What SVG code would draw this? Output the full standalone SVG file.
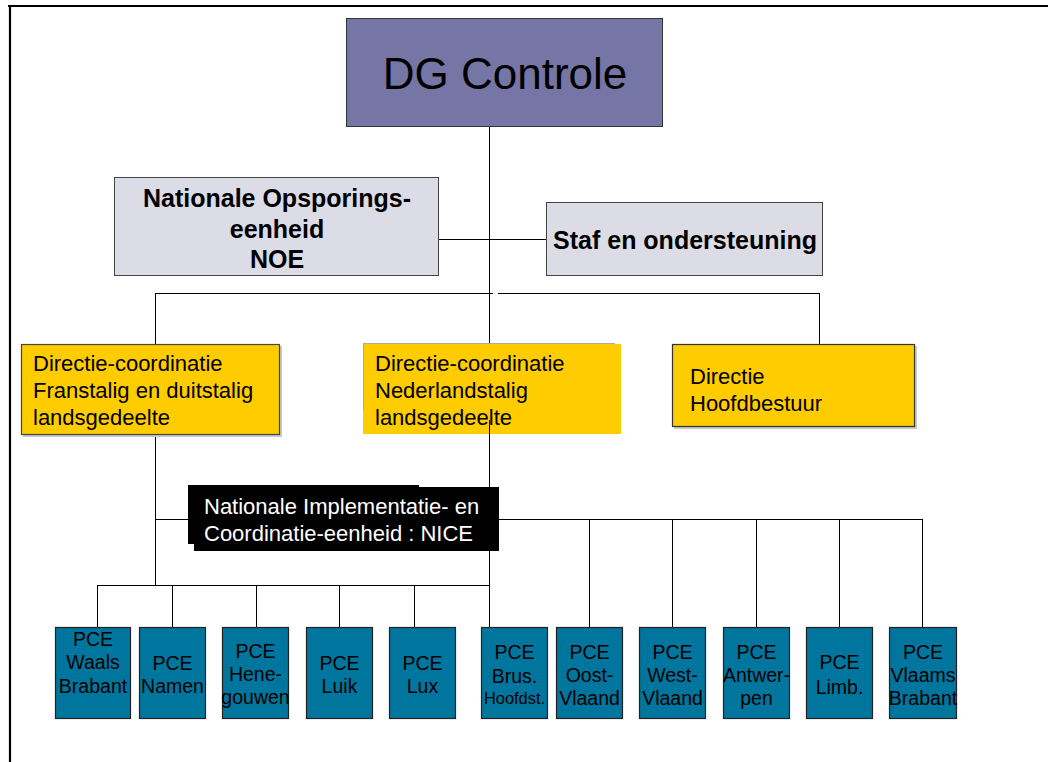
<svg xmlns="http://www.w3.org/2000/svg" width="1048" height="762" viewBox="0 0 1048 762">
<style>
.t{font-family:"Liberation Sans",Arial,sans-serif;fill:#000}
.b{font-weight:bold;font-size:25px}
.y{font-size:22px}
.p{font-size:19.5px}
.w{fill:#fff}
.ln{stroke:#000;stroke-width:1;fill:none}
.pce{fill:#00759d;stroke:#222;stroke-width:1.2}
.sh{fill:#c8c8c8}
</style>
<rect width="1048" height="762" fill="#fff"/>
<path d="M8,6 H1048 M10,5 V762" stroke="#000" stroke-width="2.2" fill="none"/>
<g id="connectors" class="ln">
<path d="M489.5,127 V293"/>
<path d="M439,239.5 H546"/>
<path d="M155.5,293.5 H493 M498,293.5 H819.5"/>
<path d="M155.5,293 V344 M489.5,293 V344 M819.5,293 V344"/>
<path d="M155.5,435 V586 M489.5,420 V628"/>
<path d="M155.5,519.5 H188 M499,519.5 H922.5"/>
<path d="M589.5,519 V628 M672.5,519 V628 M756.5,519 V628 M839.5,519 V628 M922.5,519 V628"/>
<path d="M97.5,585.5 H489.5"/>
<path d="M97.5,585 V628 M172.5,585 V628 M256.5,585 V628 M339.5,585 V628 M414.5,585 V628"/>
</g>
<g id="dg">
<rect x="346.5" y="18.5" width="316" height="108" fill="#7676a6" stroke="#333" stroke-width="1"/>
<text class="t" x="505" y="89" font-size="44" text-anchor="middle">DG Controle</text>
</g>
<g id="noe">
<rect x="114.5" y="177.5" width="324" height="98" fill="#dcdce6" stroke="#444" stroke-width="1"/>
<text class="t b" text-anchor="middle"><tspan x="277" y="207">Nationale Opsporings-</tspan><tspan x="277" y="238">eenheid</tspan><tspan x="277" y="268">NOE</tspan></text>
</g>
<g id="staf">
<rect x="546.5" y="202.5" width="276" height="73" fill="#dcdce6" stroke="#444" stroke-width="1"/>
<text class="t b" x="685" y="249" text-anchor="middle">Staf en ondersteuning</text>
</g>
<g id="dir1">
<rect x="23" y="346" width="259" height="91" class="sh"/>
<rect x="21.5" y="344.5" width="258" height="90" fill="#ffcc00" stroke="#444" stroke-width="1.2"/>
<text class="t y"><tspan x="33" y="371">Directie-coordinatie</tspan><tspan x="33" y="398">Franstalig en duitstalig</tspan><tspan x="33" y="425">landsgedeelte</tspan></text>
</g>
<g id="dir2">
<rect x="363" y="344" width="258" height="90" fill="#ffcc00"/>
<path d="M363,343.5 H615 M363.5,343 V410" stroke="#aaa" stroke-width="1" fill="none"/>
<text class="t y"><tspan x="375" y="371">Directie-coordinatie</tspan><tspan x="375" y="398">Nederlandstalig</tspan><tspan x="375" y="425">landsgedeelte</tspan></text>
</g>
<g id="dir3">
<rect x="674" y="346" width="243" height="83" class="sh"/>
<rect x="672.5" y="344.5" width="242" height="82" fill="#ffcc00" stroke="#333" stroke-width="1.2"/>
<text class="t y"><tspan x="690" y="384">Directie</tspan><tspan x="690" y="411">Hoofdbestuur</tspan></text>
</g>
<path d="M489.5,420 V434" class="ln"/>
<g id="nice">
<rect x="188" y="485" width="231" height="59" fill="#000"/>
<rect x="194" y="487" width="305" height="64" fill="#000"/>
<text class="t y w"><tspan x="204" y="514">Nationale Implementatie- en</tspan><tspan x="204" y="541">Coordinatie-eenheid : NICE</tspan></text>
</g>
<g id="pce1"><rect x="55.5" y="627.5" width="75" height="91" class="pce"/><text class="t p" text-anchor="middle"><tspan x="93" y="646">PCE</tspan><tspan x="93" y="669">Waals</tspan><tspan x="93" y="693">Brabant</tspan></text></g>
<g id="pce2"><rect x="139.5" y="627.5" width="66" height="91" class="pce"/><text class="t p" text-anchor="middle"><tspan x="172.5" y="670">PCE</tspan><tspan x="172.5" y="693">Namen</tspan></text></g>
<g id="pce3"><rect x="222.5" y="627.5" width="66" height="91" class="pce"/><text class="t p" text-anchor="middle"><tspan x="255.5" y="658">PCE</tspan><tspan x="255.5" y="681">Hene-</tspan><tspan x="255.5" y="704">gouwen</tspan></text></g>
<g id="pce4"><rect x="306.5" y="627.5" width="66" height="91" class="pce"/><text class="t p" text-anchor="middle"><tspan x="339.5" y="670">PCE</tspan><tspan x="339.5" y="693">Luik</tspan></text></g>
<g id="pce5"><rect x="389.5" y="627.5" width="66" height="91" class="pce"/><text class="t p" text-anchor="middle"><tspan x="422.5" y="670">PCE</tspan><tspan x="422.5" y="693">Lux</tspan></text></g>
<g id="pce6"><rect x="481.5" y="627.5" width="66" height="91" class="pce"/><text class="t p" text-anchor="middle"><tspan x="514.5" y="659">PCE</tspan><tspan x="514.5" y="683">Brus.</tspan><tspan x="514.5" y="704" font-size="16.4">Hoofdst.</tspan></text></g>
<g id="pce7"><rect x="556.5" y="627.5" width="66" height="91" class="pce"/><text class="t p" text-anchor="middle"><tspan x="589.5" y="659">PCE</tspan><tspan x="589.5" y="682">Oost-</tspan><tspan x="589.5" y="705">Vlaand</tspan></text></g>
<g id="pce8"><rect x="639.5" y="627.5" width="66" height="91" class="pce"/><text class="t p" text-anchor="middle"><tspan x="672.5" y="659">PCE</tspan><tspan x="672.5" y="682">West-</tspan><tspan x="672.5" y="705">Vlaand</tspan></text></g>
<g id="pce9"><rect x="723.5" y="627.5" width="66" height="91" class="pce"/><text class="t p" text-anchor="middle"><tspan x="756.5" y="659">PCE</tspan><tspan x="756.5" y="682">Antwer-</tspan><tspan x="756.5" y="705">pen</tspan></text></g>
<g id="pce10"><rect x="806.5" y="627.5" width="66" height="91" class="pce"/><text class="t p" text-anchor="middle"><tspan x="839.5" y="669">PCE</tspan><tspan x="839.5" y="694">Limb.</tspan></text></g>
<g id="pce11"><rect x="889.5" y="627.5" width="67" height="91" class="pce"/><text class="t p" text-anchor="middle"><tspan x="923" y="659">PCE</tspan><tspan x="923" y="682">Vlaams</tspan><tspan x="923" y="705">Brabant</tspan></text></g>
</svg>
